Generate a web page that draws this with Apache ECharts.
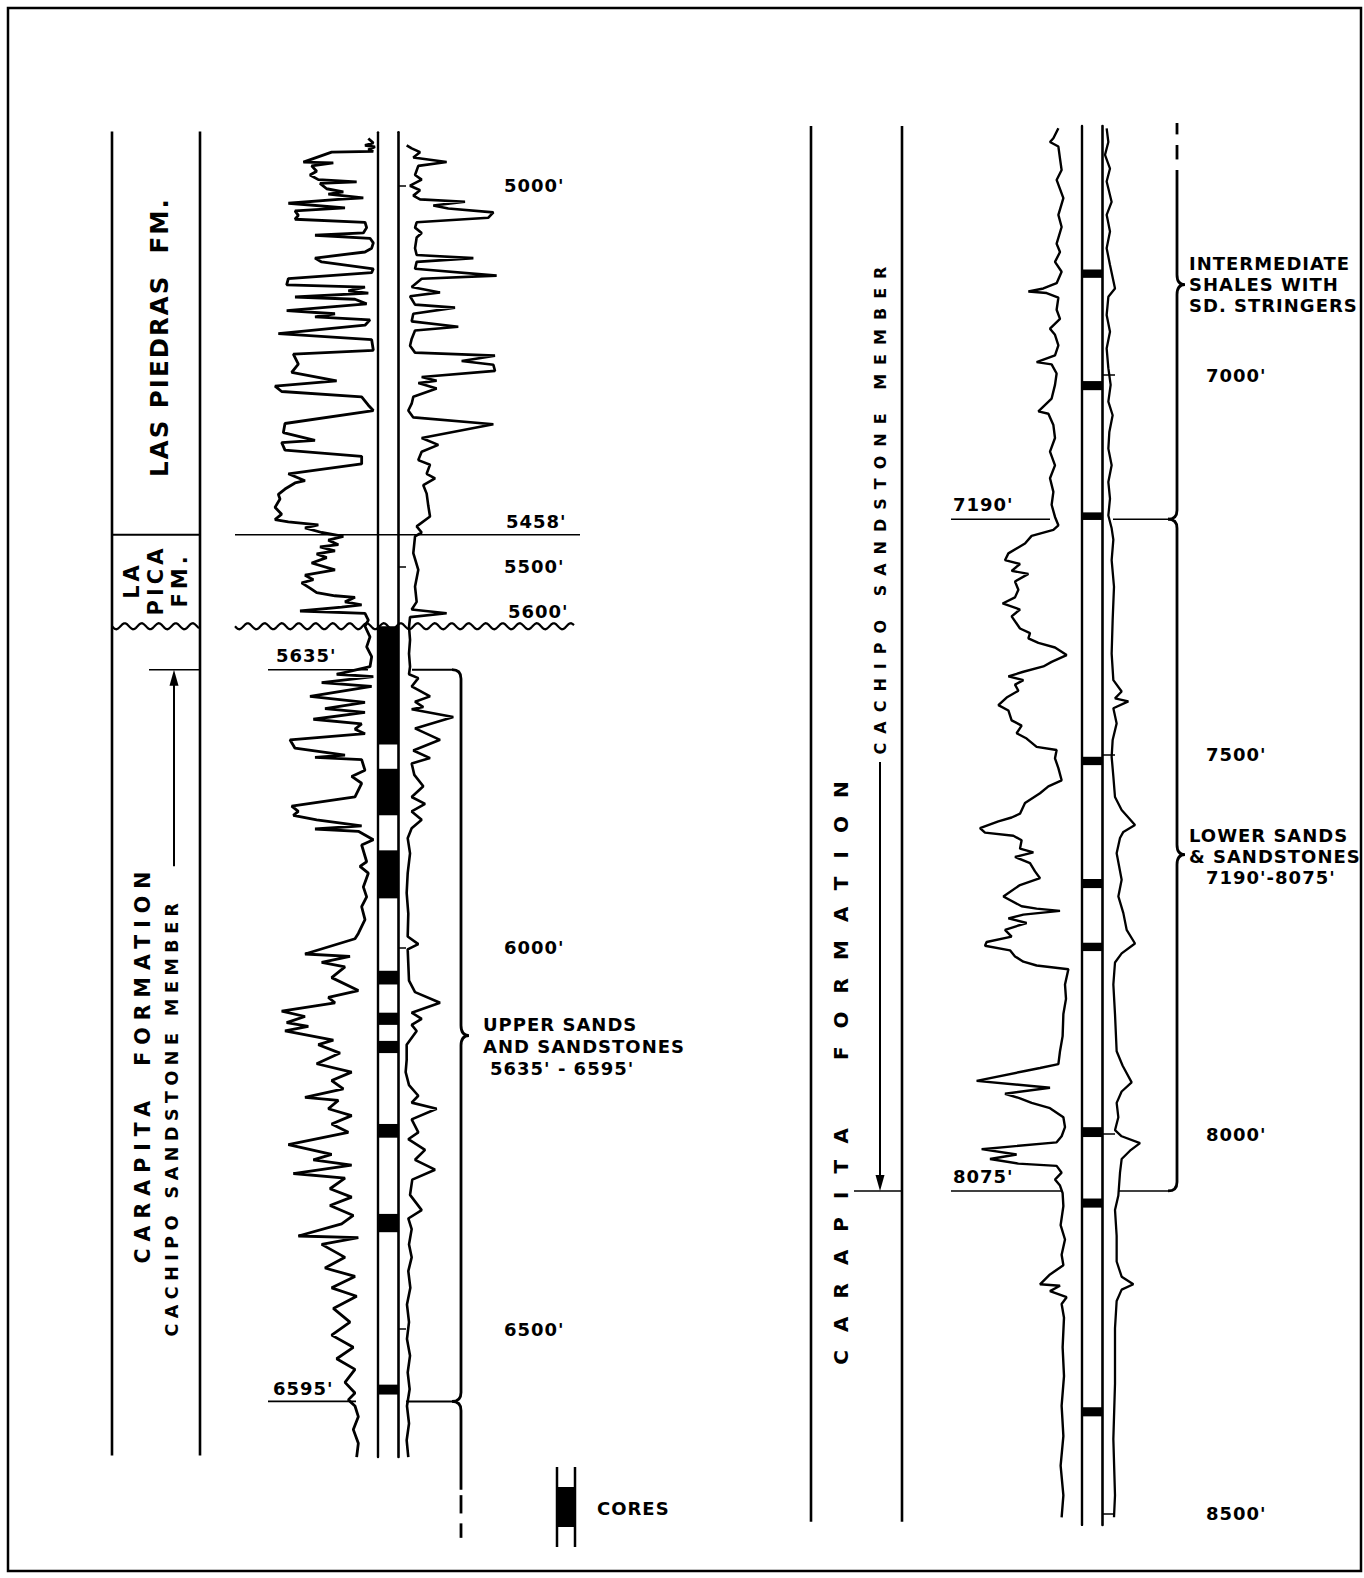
<!DOCTYPE html>
<html>
<head>
<meta charset="utf-8">
<title>Carapita Formation - electric logs</title>
<script src="https://cdn.jsdelivr.net/npm/echarts@6/dist/echarts.min.js"></script>
<style>
  html, body { margin: 0; padding: 0; background: #fff; }
  #chart { width: 1364px; height: 1578px; }
  /* the drawing uses widely spaced lettering; zrender has no letter-spacing, the svg text takes css */
  #chart text[style*="18px"] { letter-spacing: 1px; }
  #chart text[style*="24.5px"] { letter-spacing: 2px; }
  #chart text[style*="21px"] { letter-spacing: 4px; }
  #chart text[style*="20.5px"] { letter-spacing: 7px; }
  #chart text[style*="17.5px"] { letter-spacing: 5.5px; }
  #chart text[style*="20px"] { letter-spacing: 18px; }
  #chart text[style*="16px"] { letter-spacing: 9px; }
</style>
</head>
<body>
<div id="chart"></div>
<script>
// ---- values: [log deflection (0..100 of track), depth ft] ----
const spLeft = [
  [93,4938],[97.5,4944],[90,4947],[99,4949],[93,4953],[97.5,4955],[60,4956],[34.5,4969],[61.5,4970],[42,4974],[46.5,4981],
  [40.5,4986],[48,4992],[82.5,4995],[49.5,4997],[55.5,5004],[70.5,5008],[57,5011],[88.5,5016],[66,5018],[21,5023],
  [72,5029],[27,5033],[30,5039],[27,5044],[90,5048],[91.5,5055],[88.5,5062],[45,5065],[94.5,5069],[97.5,5075],
  [96,5082],[90,5087],[45,5095],[51,5100],[97.5,5109],[96,5114],[21,5122],[19.5,5130],[90,5133],[75,5138],
  [93,5141],[27,5146],[81,5149],[91.5,5155],[19.5,5164],[63,5168],[45,5172],[94.5,5176],[90,5183],[12,5194],
  [96,5202],[97.5,5216],[25.5,5221],[30,5234],[24,5245],[64.5,5256],[9,5263],[15,5270],[87,5277],[93,5288],
  [97.5,5295],[18,5312],[16.5,5324],[45,5334],[15,5337],[18,5347],[87,5355],[87,5365],[21,5378],[36,5387],
  [27,5390],[18,5398],[12,5405],[13.5,5411],[9,5422],[15,5431],[9,5438],[21,5441],[48,5445],[36,5449],[51,5455],
  [70.5,5460],[57,5465],[66,5471],[49.5,5474],[63,5479],[46.5,5483],[55.5,5488],[42,5495],[63,5504],[36,5511],
  [43.5,5517],[33,5521],[40.5,5528],[46.5,5534],[63,5538],[81,5540],[72,5546],[87,5550],[69,5553],[31.5,5558],
  [90,5561],[93,5570],[90,5578],[94.5,5592],[91.5,5605],[96,5618],[94.5,5631],[64.5,5641],[97.5,5644],[51,5652],
  [96,5657],[40.5,5670],[90,5678],[54,5686],[90,5691],[43.5,5700],[87,5706],[81,5713],[90,5719],[22.5,5727],
  [27,5738],[72,5747],[45,5750],[87,5753],[90,5767],[78,5775],[87,5784],[81,5802],[24,5814],[30,5821],
  [25.5,5826],[46.5,5832],[87,5840],[45,5844],[84,5847],[97.5,5858],[87,5865],[91.5,5887],[85.5,5893],[93,5902],
  [88.5,5920],[91.5,5933],[87,5946],[90,5963],[84,5981],
  [81,5988],[36,6008],[76.5,6011],[51,6019],[72,6025],[60,6039],[84,6056],[57,6065],[63,6072],[15,6083],
  [36,6090],[19.5,6098],[39,6103],[18,6109],[61.5,6121],[48,6127],[67.5,6138],[46.5,6152],[78,6163],[60,6174],
  [70.5,6185],[36,6196],[66,6200],[57,6211],[78,6220],[60,6231],[75,6242],[21,6258],[60,6271],[43.5,6278],
  [78,6285],[25.5,6296],[72,6302],[58.5,6316],[78,6327],[58.5,6338],[79.5,6351],[69,6362],[30,6378],[84,6380],
  [51,6389],[72,6406],[54,6420],[81,6431],[60,6446],[82.5,6457],[61.5,6473],[76.5,6491],[60,6508],[79.5,6524],
  [64.5,6539],[81,6553],[72,6570],[81,6584],[75,6593],[81,6601],[84,6615],[79.5,6632],[84,6650],[82.5,6668]
]
const resLeft = [
  [8.5,4947],[13.4,4951],[21.6,4956],[15,4963],[47.7,4969],[19.9,4974],[16.7,4986],[23.2,4992],[11.8,5000],[21.6,5006],
  [15,5013],[21.6,5018],[65.7,5021],[34.6,5026],[49.3,5030],[93.5,5035],[88.6,5042],[18.3,5048],[16.7,5055],[23.2,5062],
  [18.3,5068],[16.7,5082],[18.3,5091],[73.9,5095],[18.3,5100],[16.7,5109],[96.7,5118],[23.2,5122],[13.4,5133],[41.2,5140],
  [11.8,5145],[16.7,5156],[55.9,5160],[15,5168],[13.4,5178],[59.1,5185],[16.7,5190],[13.4,5201],[11.8,5210],[16.7,5219],
  [95.1,5223],[62.4,5230],[93.5,5235],[95.1,5243],[23.2,5251],[37.9,5256],[19.9,5259],[37.9,5266],[15,5277],[13.4,5286],
  [10.1,5295],[15,5304],[93.5,5313],[23.2,5331],[39.5,5340],[23.2,5349],[19.9,5360],[31.4,5366],[28.1,5378],[36.3,5384],
  [24.8,5393],[28.1,5404],[29.7,5420],[31.4,5434],[18.3,5447],[23.2,5455],
  [16.7,5460],[15,5482],[19.9,5504],[16.7,5526],[18.3,5546],[13.4,5556],[47.7,5561],[11.8,5566],[10.8,5579],[11.8,5596],
  [10.8,5614],[11.8,5631],[10.8,5641],[19.9,5646],[13.4,5657],[31.4,5670],[16.7,5677],[24.8,5684],[13.4,5687],[54.2,5697],
  [16.7,5712],[41.2,5727],[15,5741],[31.4,5751],[13.4,5758],[16,5773],[24.8,5788],[13.4,5802],[26.5,5811],[13.4,5821],
  [23.2,5832],[13.4,5843],[9.5,5856],[11.8,5876],[9.5,5902],[8.5,5928],[10.1,5955],[9.5,5985],
  [19.9,5995],[9.5,6002],[10.1,6021],[10.8,6043],[16.7,6058],[41.2,6072],[13.4,6085],[23.2,6093],[13.4,6101],[18.3,6109],
  [8.5,6127],[8.5,6147],[7.5,6163],[10.8,6180],[19.9,6194],[13.4,6203],[37.9,6211],[13.4,6225],[19.9,6242],[10.1,6251],
  [26.5,6265],[16.7,6278],[36.3,6291],[14,6304],[11.8,6324],[23.2,6344],[10.1,6355],[13.4,6369],[10.8,6389],[13.4,6406],
  [10.1,6424],[12.1,6446],[8.8,6468],[10.8,6491],[8.8,6513],[11.8,6535],[9.5,6557],[11.4,6579],[8.8,6601],[10.8,6624],
  [8.5,6646],[10.1,6668]
]
const spRight = [
  [82.7,6675],[78.7,6688],[76,6693],[82.7,6699],[84,6715],[85.3,6730],[81.3,6743],[86.7,6767],[82.7,6789],[85.3,6805],
  [81.3,6827],[84,6838],[80,6851],[85.3,6864],[81.3,6879],[70.7,6886],[58.7,6890],[73.3,6892],[82.7,6898],[81.3,6914],
  [84,6926],[76,6939],[80,6947],[82.7,6961],[80,6974],[65.3,6983],[77.3,6986],[81.3,6998],[80,7013],[77.3,7031],
  [66.7,7048],[74.7,7051],[78.7,7066],[80,7083],[76,7101],[80,7119],[76,7136],[78.7,7154],[77.3,7171],[80,7187],
  [82.7,7198],[78.7,7204],[61.3,7212],[56,7222],[42.7,7235],[40,7244],[52,7249],[45.3,7258],[58.7,7262],[48,7272],
  [50.7,7283],[48,7293],[38.1,7301],[52,7309],[45.3,7318],[52,7334],[60,7340],[58.7,7347],[66.7,7353],[80,7359],
  [89.3,7369],[77.3,7378],[70.7,7384],[54.7,7391],[42.7,7397],[54.7,7402],[48,7408],[50.7,7416],[41.3,7425],[34.7,7435],
  [42.7,7442],[45.3,7455],[53.3,7462],[49.3,7472],[57.3,7479],[65.3,7490],[81.3,7494],[80,7505],[82.7,7518],[85.3,7534],
  [74.7,7542],[68,7551],[56,7564],[52,7578],[45.3,7583],[34.7,7588],[20,7597],[24,7603],[46.7,7607],[53.3,7613],
  [52,7624],[62.7,7629],[48,7635],[60,7643],[64,7654],[68,7663],[52,7672],[38.7,7687],[53.3,7700],[65.3,7703],
  [84,7706],[54.7,7711],[42.7,7716],[57.3,7722],[40,7731],[45.3,7740],[25.3,7747],[24,7752],[44,7758],[48,7766],
  [54.7,7773],[65.3,7778],[90.7,7783],[88,7803],[88.8,7822],[86.7,7842],[86.1,7871],[84,7891],[82.7,7908],[68,7913],
  [56,7917],[17.3,7930],[76,7939],[40,7947],[52,7953],[61.3,7959],[76,7966],[86.7,7978],[88,7991],[85.3,8003],
  [81.3,8011],[21.3,8020],[49.3,8027],[28,8033],[50.7,8039],[81.3,8042],[85.3,8051],[80,8060],[84,8068],[86.1,8078],
  [86.7,8095],[84.5,8120],[88,8139],[85.3,8159],[86.7,8173],[76,8185],[68,8198],[84,8200],[76,8207],[89.3,8215],
  [85.3,8224],[87.2,8242],[86.1,8281],[87.2,8319],[85.3,8358],[86.7,8398],[84.5,8437],[86.7,8476],[85.3,8505]
]
const resRight = [
  [9.3,6675],[12.7,6693],[6,6710],[16,6728],[9.3,6745],[19.3,6772],[9.3,6789],[16,6811],[9.3,6833],[16,6855],
  [26,6886],[12.7,6897],[9.3,6921],[16,6943],[9.3,6965],[12.7,6991],[17.3,7013],[12.7,7035],[21.3,7053],[14.7,7075],
  [12.7,7097],[19.3,7119],[12.7,7141],[16,7163],[12.7,7185],[19.3,7202],
  [22.7,7217],[19.3,7244],[24,7279],[21.3,7323],[19.3,7367],[22.7,7402],[39.3,7417],[26,7426],[52.7,7430],[22.7,7439],
  [29.3,7459],[21.3,7481],[19.3,7503],[22.7,7529],[26,7556],[39.3,7573],[66,7593],[42.7,7602],[36,7610],[29.3,7630],
  [39.3,7665],[32.7,7687],[42.7,7709],[49.3,7731],[66,7749],[39.3,7762],
  [26,7774],[22.7,7803],[26,7842],[29.3,7891],[41.3,7910],[59.3,7932],[39.3,7944],[29.3,7959],[32.7,7978],[26,7995],
  [39.3,8003],[76,8012],[56,8022],[39.3,8033],[36,8051],[32.7,8081],[26,8100],[29.3,8134],[29.3,8168],[39.3,8188],
  [62.7,8198],[39.3,8205],[29.3,8220],[26,8256],[26,8329],[22.7,8402],[26,8476],[24,8505]
]
// cored intervals [top, bottom] ft
const coresLeft = [[5578,5733],[5765,5826],[5872,5935],[6030,6048],[6085,6101],[6122,6138],[6231,6249],[6349,6373],[6573,6586]]
const coresRight = [[6861,6872],[7008,7020],[7181,7191],[7503,7514],[7664,7676],[7748,7759],[7991,8004],[8085,8097],[8360,8372]]
const leftDepthTicks = [5000, 5500, 6000, 6500]
const rightDepthTicks = [7000, 7500, 8000, 8500]
const leftTops = [5458, 5635, 6595]      // base Las Piedras, top / base upper sands
const leftUnconformity = 5578              // drawn position of the 5600' unconformity
const rightTops = [7190, 8075]             // top / base lower sands
const leftBraceTips = [6115]
const rightBraceTips = [6881, 7632]
const leftColumnSpan = [4929, 6666]
const rightColumnSpan = [6672, 8511]

// ---- layout ----
const FONT = 'DejaVu Sans'
const LEFT_SCALE = { d0: 5000, y0: 185.7, k: 0.7622 }   // px per foot from the depth ticks
const RIGHT_SCALE = { d0: 7000, y0: 375, k: 0.759 }
function band(s, dMin, dMax) {
  return { top: s.y0 + (dMin - s.d0) * s.k, height: (dMax - dMin) * s.k, outerBoundsMode: 'none' }
}

const chart = echarts.init(document.getElementById('chart'), null, { renderer: 'svg' })

function hiddenX(gridIndex, min, max) {
  return { type: 'value', gridIndex, min, max, show: false }
}
function hiddenY(gridIndex, min, max) {
  return { type: 'value', gridIndex, min, max, inverse: true, show: false }
}
function coreLineAxis(gridIndex, min, max) {
  return {
    type: 'value', gridIndex, min, max, inverse: true, position: 'left',
    axisLine: { show: true, onZero: false, lineStyle: { color: '#000', width: 2.4 } },
    axisTick: { show: false }, axisLabel: { show: false }, splitLine: { show: false }
  }
}
function depthAxis(gridIndex, min, max, ticks, tickLen, margin) {
  return {
    type: 'value', gridIndex, min, max, inverse: true, position: 'right',
    axisLine: { show: true, onZero: false, lineStyle: { color: '#000', width: 2.6 } },
    axisTick: { show: true, customValues: ticks, length: tickLen, lineStyle: { color: '#000', width: 1.5 } },
    axisLabel: {
      show: true, customValues: ticks, margin, color: '#000',
      fontSize: 18, fontWeight: 'bold', fontFamily: FONT,
      formatter: v => v + "'"
    },
    splitLine: { show: false }
  }
}

function labelStyle(text, extra) {
  return Object.assign({
    text, fill: '#000', fontSize: 18, fontWeight: 'bold', fontFamily: FONT,
    align: 'left', textAlign: 'left', verticalAlign: 'middle', textVerticalAlign: 'middle'
  }, extra)
}

function coreBlock(params, api) {
  const a = api.coord([0, api.value(0)])
  const b = api.coord([1, api.value(1)])
  return { type: 'rect', shape: { x: a[0], y: a[1], width: b[0] - a[0], height: b[1] - a[1] }, style: { fill: '#000' } }
}

function wave(x1, x2, y) {
  const pts = []
  for (let x = x1; x <= x2; x += 1.5) pts.push([x, y + 3 * Math.sin((x - x1) / 17 * 2 * Math.PI)])
  return { type: 'polyline', shape: { points: pts }, style: { stroke: '#000', lineWidth: 2.2, fill: 'none' } }
}

// curly bracket: vertical at x, point at xTip; hooks bend left at the ends
function bracePath(x, xTip, yTop, yTip, yBot, hookTop, hookBot) {
  const r = 9
  let p = hookTop ? `M${x - r} ${yTop} Q${x} ${yTop} ${x} ${yTop + r} ` : `M${x} ${yTop} `
  p += `L${x} ${yTip - 10} Q${x} ${yTip} ${xTip} ${yTip} Q${x} ${yTip} ${x} ${yTip + 10} `
  p += hookBot ? `L${x} ${yBot - r} Q${x} ${yBot} ${x - r} ${yBot}` : `L${x} ${yBot}`
  return { type: 'path', shape: { pathData: p }, style: { stroke: '#000', fill: 'none', lineWidth: 2.8 } }
}

function decorTools(api, g) {
  const Y = d => api.coord([0, d])[1]
  return {
    Y,
    seg: (x1, d1, x2, d2, w) => g.push({ type: 'line', shape: { x1, y1: Y(d1), x2, y2: Y(d2) }, style: { stroke: '#000', lineWidth: w || 2 } }),
    label: (text, x, d, dy) => g.push({ type: 'text', x, y: Y(d) + dy, style: labelStyle(text) })
  }
}

function leftDecor(params, api) {
  const g = []
  const { Y, seg, label } = decorTools(api, g)
  const [dTop, dBot] = leftColumnSpan
  const [dLas, dUpper, dBase] = leftTops
  seg(112, dTop, 112, dBot, 2.6)
  seg(200, dTop, 200, dBot, 2.6)
  seg(112, dLas, 200, dLas, 2)
  seg(235, dLas, 580, dLas, 1.6)
  seg(149, dUpper, 200, dUpper, 1.6)
  seg(268, dUpper, 368, dUpper, 1.6)
  seg(412, dUpper, 452, dUpper, 2)
  seg(268, dBase, 356, dBase, 1.6)
  seg(406, dBase, 452, dBase, 2)
  g.push(wave(112, 200, Y(leftUnconformity)))
  g.push(wave(235, 575, Y(leftUnconformity)))
  // member arrow pointing up to the top of the upper sands
  const yA = Y(dUpper)
  seg(174, 5893, 174, dUpper + 10, 2)
  g.push({ type: 'polygon', shape: { points: [[174, yA], [169.5, yA + 16], [178.5, yA + 16]] }, style: { fill: '#000' } })
  // brackets
  g.push(bracePath(461, 469, Y(dUpper), Y(leftBraceTips[0]), Y(dBase), true, true))
  const yB = Y(dBase)
  g.push({ type: 'path', shape: { pathData: `M452 ${yB} Q461 ${yB} 461 ${yB + 9} L461 ${Y(6711)}` }, style: { stroke: '#000', fill: 'none', lineWidth: 2.8 } })
  seg(461, 6718, 461, 6742, 2.8)
  seg(461, 6755, 461, 6774, 2.8)
  label("5458'", 506, dLas, -13)
  label("5600'", 508, leftUnconformity, -15)
  label("5635'", 276, dUpper, -14)
  label("6595'", 273, dBase, -13)
  return { type: 'group', children: g }
}

function rightDecor(params, api) {
  const g = []
  const { Y, seg, label } = decorTools(api, g)
  const [dTop, dBot] = rightColumnSpan
  const [dTopSand, dBaseSand] = rightTops
  seg(811, dTop, 811, dBot, 2.6)
  seg(902, dTop, 902, dBot, 2.6)
  seg(854, dBaseSand, 902, dBaseSand, 1.6)
  seg(951, dTopSand, 1050, dTopSand, 1.6)
  seg(1113, dTopSand, 1168, dTopSand, 1.6)
  seg(951, dBaseSand, 1062, dBaseSand, 1.6)
  seg(1118, dBaseSand, 1168, dBaseSand, 1.6)
  // member arrow pointing down to the base of the lower sands
  const yA = Y(dBaseSand)
  seg(880, 7510, 880, dBaseSand - 10, 2)
  g.push({ type: 'polygon', shape: { points: [[880, yA], [875.5, yA - 16], [884.5, yA - 16]] }, style: { fill: '#000' } })
  // brackets
  seg(1177, 6668, 1177, 6683, 2.8)
  seg(1177, 6697, 1177, 6716, 2.8)
  g.push(bracePath(1177, 1185, Y(6730), Y(rightBraceTips[0]), Y(dTopSand), false, true))
  g.push(bracePath(1177, 1185, Y(dTopSand), Y(rightBraceTips[1]), Y(dBaseSand), true, true))
  label("7190'", 953, dTopSand, -15)
  label("8075'", 953, dBaseSand, -14)
  return { type: 'group', children: g }
}

function rotText(text, x, y, size, extra) {
  return {
    type: 'text', x, y, rotation: Math.PI / 2,
    style: labelStyle(text, Object.assign({ fontSize: size, align: 'center', textAlign: 'center' }, extra))
  }
}
function flatText(text, x, y) {
  return { type: 'text', x, y, style: labelStyle(text) }
}

const option = {
  animation: false,
  backgroundColor: '#fff',
  grid: [
    Object.assign({ left: 265, width: 111.1 }, band(LEFT_SCALE, 4900, 6700)),
    Object.assign({ left: 378, width: 20 }, band(LEFT_SCALE, 4930, 6668)),
    Object.assign({ left: 398, width: 102 }, band(LEFT_SCALE, 4900, 6700)),
    Object.assign({ left: 0, width: 1364 }, band(LEFT_SCALE, 4800, 6800)),
    Object.assign({ left: 955, width: 125 }, band(RIGHT_SCALE, 6600, 8560)),
    Object.assign({ left: 1082, width: 20 }, band(RIGHT_SCALE, 6672, 8515)),
    Object.assign({ left: 1102, width: 50 }, band(RIGHT_SCALE, 6600, 8560)),
    Object.assign({ left: 0, width: 1364 }, band(RIGHT_SCALE, 6600, 8560))
  ],
  xAxis: [
    hiddenX(0, 0, 100), hiddenX(1, 0, 1), hiddenX(2, 0, 100), hiddenX(3, 0, 1364),
    hiddenX(4, 0, 100), hiddenX(5, 0, 1), hiddenX(6, 0, 100), hiddenX(7, 0, 1364)
  ],
  yAxis: [
    hiddenY(0, 4900, 6700),
    coreLineAxis(1, 4930, 6668),
    depthAxis(1, 4930, 6668, leftDepthTicks, 8, 106),
    hiddenY(2, 4900, 6700),
    hiddenY(3, 4800, 6800),
    hiddenY(4, 6600, 8560),
    coreLineAxis(5, 6672, 8515),
    depthAxis(5, 6672, 8515, rightDepthTicks, 13, 104),
    hiddenY(6, 6600, 8560),
    hiddenY(7, 6600, 8560)
  ],
  series: [
    { name: 'SP left', type: 'line', xAxisIndex: 0, yAxisIndex: 0, data: spLeft, showSymbol: false, lineStyle: { color: '#000', width: 2.8 } },
    { name: 'Cores left', type: 'custom', xAxisIndex: 1, yAxisIndex: 1, data: coresLeft, renderItem: coreBlock },
    { name: 'Resistivity left', type: 'line', xAxisIndex: 2, yAxisIndex: 3, data: resLeft, showSymbol: false, lineStyle: { color: '#000', width: 2.6 } },
    { name: 'Left notes', type: 'custom', xAxisIndex: 3, yAxisIndex: 4, data: [0], renderItem: leftDecor, silent: true },
    { name: 'SP right', type: 'line', xAxisIndex: 4, yAxisIndex: 5, data: spRight, showSymbol: false, lineStyle: { color: '#000', width: 2.4 } },
    { name: 'Cores right', type: 'custom', xAxisIndex: 5, yAxisIndex: 6, data: coresRight, renderItem: coreBlock },
    { name: 'Resistivity right', type: 'line', xAxisIndex: 6, yAxisIndex: 8, data: resRight, showSymbol: false, lineStyle: { color: '#000', width: 2.3 } },
    { name: 'Right notes', type: 'custom', xAxisIndex: 7, yAxisIndex: 9, data: [0], renderItem: rightDecor, silent: true }
  ],
  graphic: [
    { type: 'rect', shape: { x: 8, y: 8, width: 1353, height: 1563 }, style: { fill: 'none', stroke: '#000', lineWidth: 2.5 } },
    // left column names
    rotText('LAS PIEDRAS  FM.', 159, 337, 24.5),
    rotText('LA\nPICA\nFM.', 156, 580, 21, { lineHeight: 24 }),
    rotText('CARAPITA  FORMATION', 143, 1064, 20.5),
    rotText('CACHIPO SANDSTONE MEMBER', 172, 1117, 17.5),
    // right column names
    rotText('CARAPITA  FORMATION', 841, 1064, 20),
    rotText('CACHIPO SANDSTONE MEMBER', 880, 506, 16),
    // bracket notes
    flatText('UPPER SANDS', 483, 1024),
    flatText('AND SANDSTONES', 483, 1046),
    flatText("5635' - 6595'", 490, 1068),
    flatText('INTERMEDIATE', 1189, 263),
    flatText('SHALES WITH', 1189, 284),
    flatText('SD. STRINGERS', 1189, 305),
    flatText('LOWER SANDS', 1189, 835),
    flatText('& SANDSTONES', 1189, 856),
    flatText("7190'-8075'", 1206, 877),
    // legend
    { type: 'rect', shape: { x: 557, y: 1487, width: 18, height: 40 }, style: { fill: '#000' } },
    { type: 'line', shape: { x1: 557, y1: 1467, x2: 557, y2: 1547 }, style: { stroke: '#000', lineWidth: 2.5 } },
    { type: 'line', shape: { x1: 575, y1: 1467, x2: 575, y2: 1547 }, style: { stroke: '#000', lineWidth: 2.5 } },
    flatText('CORES', 597, 1508)
  ]
}

chart.setOption(option)
</script>
</body>
</html>
